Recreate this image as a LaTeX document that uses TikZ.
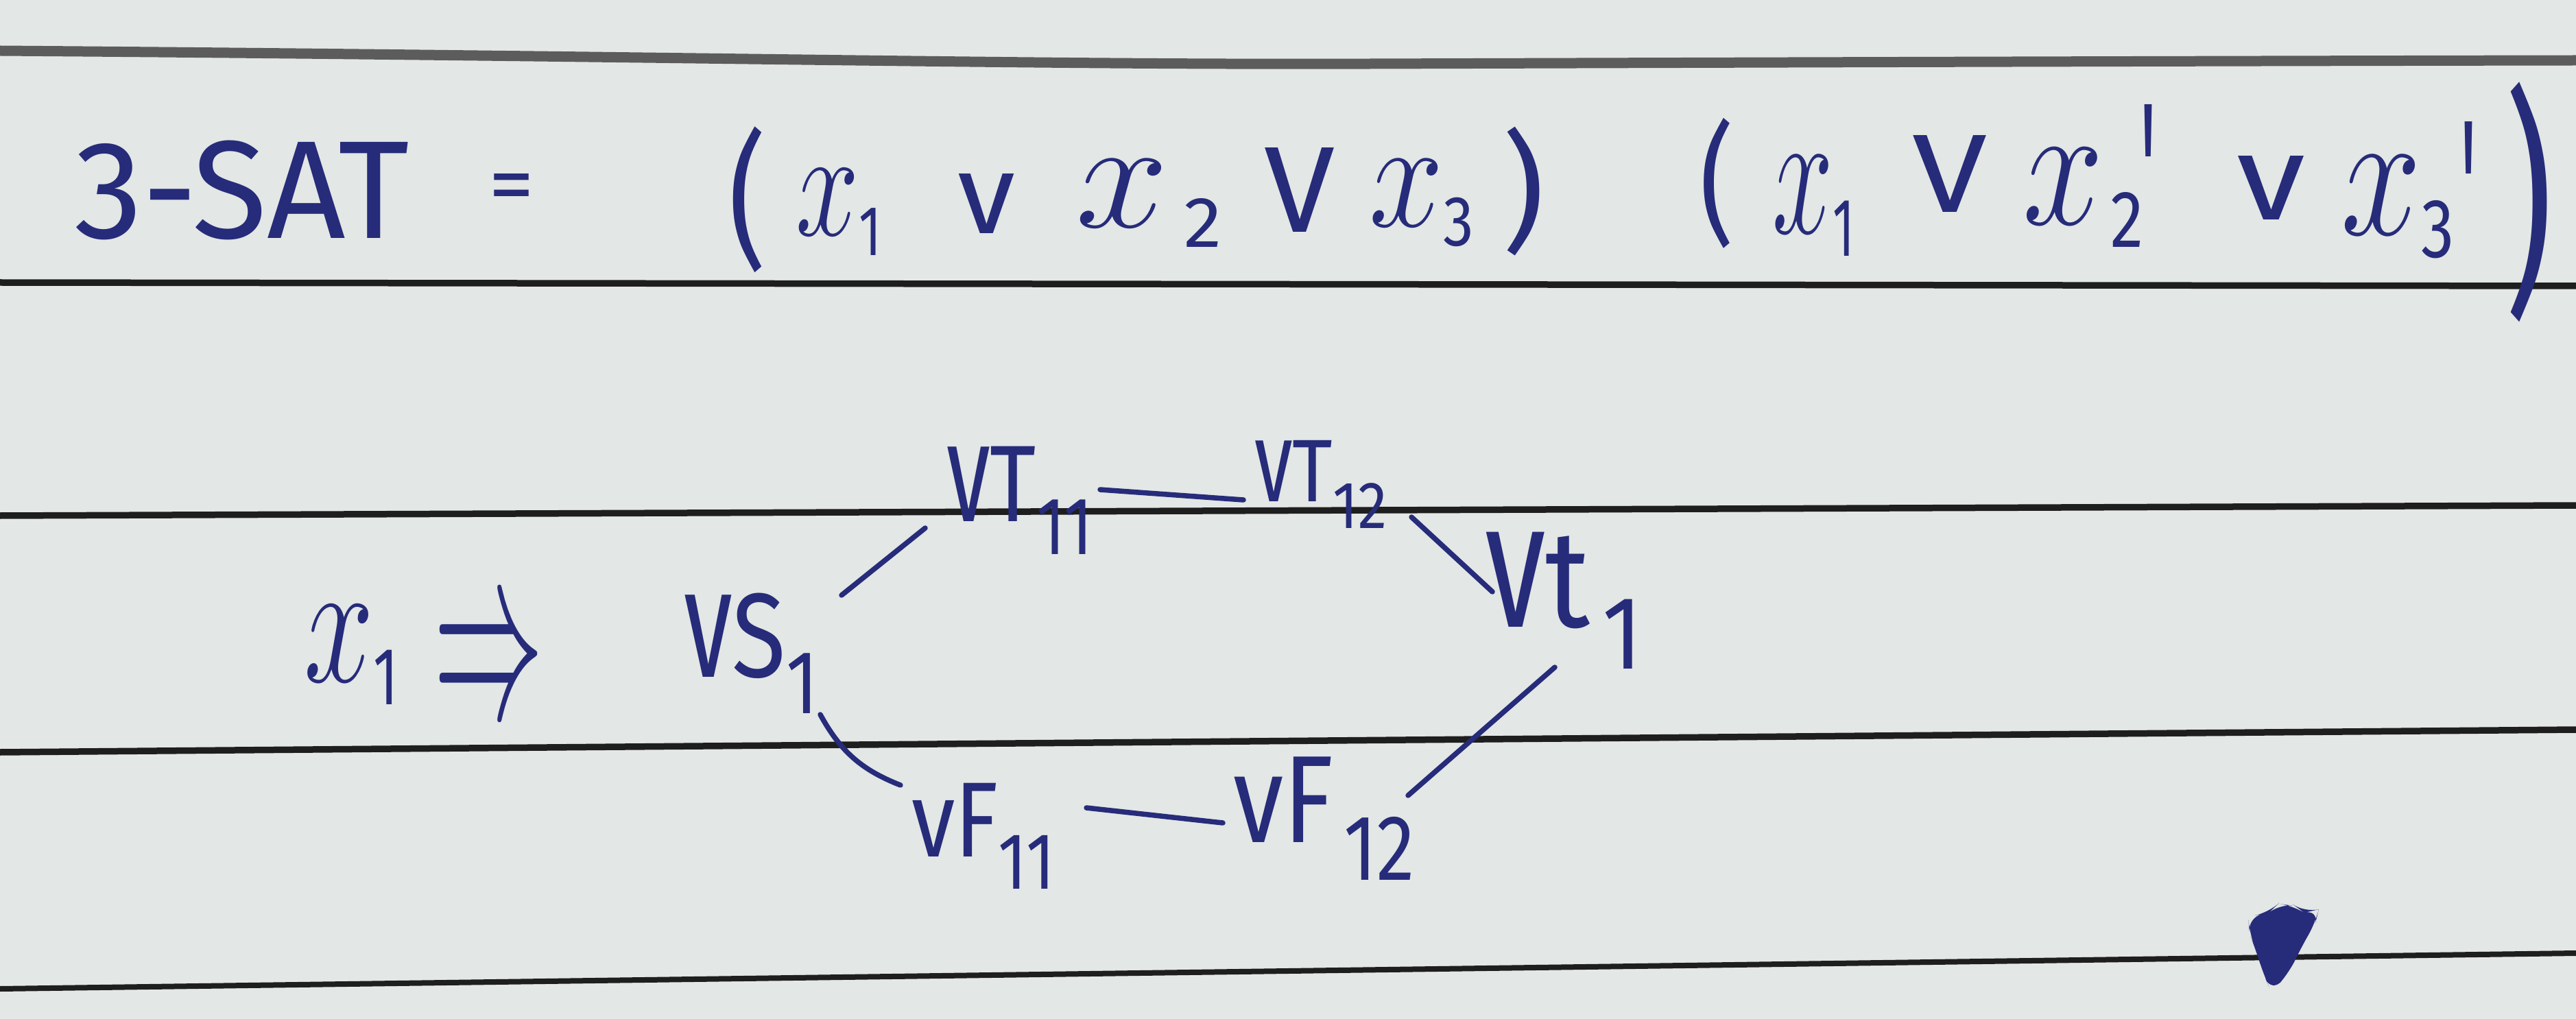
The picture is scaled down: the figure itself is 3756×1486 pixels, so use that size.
\documentclass[tikz,border=0pt]{standalone}
\usepackage{fontspec}
\setmainfont{Fira Sans}
\usepackage{graphicx}
\usetikzlibrary{calc}
\definecolor{paper}{HTML}{E3E7E5}
\definecolor{ink}{HTML}{262B7A}
\definecolor{rulek}{HTML}{1E1E1E}
\definecolor{ruleg}{HTML}{5C5C5C}
\newlength\hdpx \setlength\hdpx{0.1mm}
\newcommand\hdhw[3]{\resizebox*{#1\hdpx}{#2\hdpx}{#3}}
\newcommand\hdx{$x$}
\newcommand\hdxs[1]{\raisebox{-2.6pt}{\fontsize{9.5}{10}\selectfont #1}}
\newcommand\hdgs[1]{\raisebox{-6pt}{\fontsize{15}{15}\selectfont #1}}
\newcommand\hdv{\scalebox{1}[1.3]{v}}
\begin{document}
\begin{tikzpicture}[x=0.1mm,y=-0.1mm,font=\fontsize{20}{24}\selectfont,
  hand/.style={inner sep=0pt,outer sep=0pt,anchor=north west,text=ink},
  link/.style={draw=ink,line width=0.75mm,line cap=round},
  ruled/.style={draw=rulek,line width=0.95mm}]
\fill[paper] (0,0) rectangle (3756,1486);
\useasboundingbox (0,0) rectangle (3756,1486);
% ruled lines of the paper
\draw[draw=ruleg,line width=1.5mm] (0,74) .. controls (1000,82) and (1500,95) .. (2000,93) .. controls (2600,91) and (3200,89) .. (3756,88);
\draw[ruled] (0,412) -- (3756,417);
\draw[ruled] (0,752) -- (3756,737);
\draw[ruled] (0,1097) -- (3756,1064);
\draw[ruled,line width=0.8mm] (0,1442) -- (3756,1390);
% formula line
\node[hand] (t3sat) at (108,205) {\hdhw{489}{145}{3-SAT}};
\node[hand,anchor=center] (teq) at (746,282) {\hdhw{67}{57}{=}};
\node[hand] (lp1) at (1062,185) {\hdhw{55}{213}{(}};
\node[hand] (c1x1) at (1160,247) {\hdhw{125}{125}{\hdx\hdxs{1}}};
\node[hand] (c1or1) at (1396,253) {\hdhw{84}{87}{v}};
\node[hand] (c1x2) at (1568,233) {\hdhw{214}{127}{\hdx\kern2pt\hdxs{2}}};
\node[hand] (c1or2) at (1843,215) {\hdhw{103}{123}{V}};
\node[hand] (c1x3) at (1996,233) {\hdhw{153}{127}{\hdx\hdxs{3}}};
\node[hand] (rp1) at (2190,185) {\hdhw{62}{188}{)}};
\node[hand] (lp2) at (2478,172) {\hdhw{50}{190}{(}};
\node[hand] (c2x1) at (2584,227) {\hdhw{120}{146}{\hdx\hdxs{1}}};
\node[hand] (c2or1) at (2788,198) {\hdhw{109}{112}{V}};
\node[hand] (c2x2) at (2949,217) {\hdhw{176}{143}{\hdx\kern1pt\hdxs{2}}};
\node[hand] (c2p2) at (3120,152) {\hdhw{24}{200}{\textquotesingle}};
\node[hand] (c2or2) at (3261,227) {\hdhw{100}{93}{v}};
\node[hand] (c2x3) at (3413,227) {\hdhw{165}{150}{\hdx\hdxs{3}}};
\node[hand] (c2p3) at (3587,177) {\hdhw{24}{200}{\textquotesingle}};
\node[hand] (rp2) at (3652,120) {\hdhw{70}{350}{)}};
% left label
\node[hand] (lx1) at (443,883) {\hdhw{138}{144}{\hdx\hdxs{1}}};
\node[hand,anchor=center] (imp) at (713,978) {\scalebox{2.2}[5]{$\Rightarrow$}};
% graph vertices
\node[hand] (vS1) at (997,865) {\hdhw{196}{175}{\hdv S\hdgs{1}}};
\node[hand] (vT11) at (1380,651) {\hdhw{214}{157}{\hdv T\hdgs{11}}};
\node[hand] (vT12) at (1829,642) {\hdhw{193}{128}{\hdv T\hdgs{12}}};
\node[hand] (vt1) at (2165,776) {\hdhw{230}{199}{\hdv t\kern2pt\hdgs{1}}};
\node[hand] (vF11) at (1329,1142) {\hdhw{209}{154}{vF\hdgs{11}}};
\node[hand] (vF12) at (1798,1104) {\hdhw{265}{179}{vF\kern2pt\hdgs{12}}};
% edges
\draw[link] ($(vT11.east)+(10,-15.5)$) -- ($(vT12.west)+(-16,23)$);
\draw[link] ($(vT12.south east)+(36,-16)$) -- ($(vt1.north west)+(11,87)$);
\draw[link] ($(vS1.north east)+(34,3)$) -- ($(vT11.south west)+(-31,-38)$);
\draw[link] ($(vS1.south east)+(3,2)$) to[bend right=20] ($(vF11.north west)+(-16,3)$);
\draw[link] ($(vF11.east)+(46,-41)$) -- ($(vF12.west)+(-15,6.5)$);
\draw[link] ($(vF12.north east)+(-10,56)$) -- ($(vt1.south)+(-13,-2)$);
% ink blot
\fill[ink,rounded corners=6] (3278,1337) -- (3308,1331) -- (3322,1318) -- (3346,1321) -- (3360,1331) -- (3381,1326) -- (3376,1346) -- (3356,1380) -- (3338,1418) -- (3312,1447) -- (3300,1420) -- (3289,1385) -- (3280,1362) -- cycle;
\end{tikzpicture}
\end{document}
